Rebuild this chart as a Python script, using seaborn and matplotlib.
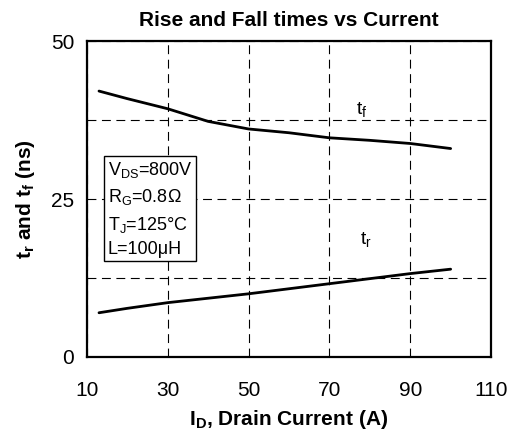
import matplotlib
matplotlib.use("Agg")
import matplotlib.pyplot as plt
import seaborn as sns
import pandas as pd
from matplotlib.ticker import MultipleLocator

# values
current = [13, 20, 30, 40, 50, 60, 70, 80, 90, 100]
t_fall = [42.1, 40.9, 39.3, 37.3, 36.1, 35.5, 34.7, 34.3, 33.8, 33.0]
t_rise = [7.0, 7.7, 8.6, 9.3, 10.0, 10.8, 11.6, 12.4, 13.2, 13.9]
x_ticks = [10, 30, 50, 70, 90, 110]
y_ticks = [0, 25, 50]

df = pd.DataFrame({"current": current, "tf": t_fall, "tr": t_rise})

sns.set_style("white")
plt.rcParams["font.family"] = ["Liberation Sans", "DejaVu Sans"]
plt.rcParams["mathtext.fontset"] = "custom"
plt.rcParams["mathtext.rm"] = "Liberation Sans"
plt.rcParams["mathtext.bf"] = "Liberation Sans:bold"
plt.rcParams["text.color"] = "black"
plt.rcParams["axes.labelcolor"] = "black"

fig = plt.figure(figsize=(5.11, 4.38), dpi=100)
ax = fig.add_axes([0.170, 0.185, 0.791, 0.721])

sns.lineplot(data=df, x="current", y="tf", ax=ax, color="black", linewidth=2)
sns.lineplot(data=df, x="current", y="tr", ax=ax, color="black", linewidth=2)

ax.set_xlim(10, 110)
ax.set_ylim(0, 50)
ax.set_xticks(x_ticks)
ax.set_yticks(y_ticks)
ax.yaxis.set_minor_locator(MultipleLocator(12.5))
ax.tick_params(axis="both", which="major", direction="out", length=4, width=1,
               labelsize=15, colors="black")
ax.tick_params(axis="x", which="major", pad=13)
ax.tick_params(axis="y", which="major", pad=5)
ax.tick_params(axis="y", which="minor", length=0)
ax.grid(True, which="both", color="black", linestyle=(0, (8, 5)), linewidth=0.8)
ax.set_axisbelow(True)
for s in ax.spines.values():
    s.set_color("black")
    s.set_linewidth(1.6)

ax.set_title("Rise and Fall times vs Current", fontsize=15, fontweight="bold", pad=11)
ax.set_xlabel(r"I$_\mathbf{D}$, Drain Current (A)", fontsize=15, fontweight="bold", labelpad=6)
ax.set_ylabel(r"t$_\mathbf{r}$ and t$_\mathbf{f}$ (ns)", fontsize=15, fontweight="bold", labelpad=10)

ax.text(76.5, 38.3, r"t$_\mathrm{f}$", fontsize=14)
ax.text(77.5, 17.8, r"t$_\mathrm{r}$", fontsize=14)

ax.text(15.2, 15.7,
        "V$_\\mathrm{DS}$=800V\nR$_\\mathrm{G}$=0.8Ω\nT$_\\mathrm{J}$=125°C\nL=100μH",
        fontsize=13, linespacing=1.48, va="bottom", ha="left", zorder=5,
        bbox=dict(boxstyle="square,pad=0.2", facecolor="white", edgecolor="black", linewidth=1))

fig.savefig("out.png", dpi=100)
